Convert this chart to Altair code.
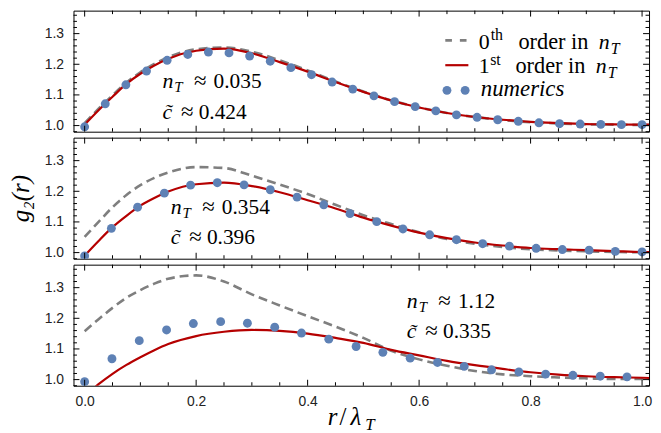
import altair as alt
import pandas as pd

# ---------------- data ----------------
curve_r = [0.0, 0.025, 0.05, 0.075, 0.1, 0.125, 0.15, 0.2, 0.25, 0.3, 0.35, 0.4, 0.45,
           0.5, 0.55, 0.6, 0.65, 0.7, 0.75, 0.8, 0.85, 0.9, 0.95, 1.0, 1.02]

top_zeroth = [1.008, 1.055, 1.099, 1.140, 1.174, 1.201, 1.223, 1.249, 1.255, 1.241, 1.213, 1.180, 1.144,
              1.111, 1.082, 1.059, 1.041, 1.028, 1.018, 1.011, 1.007, 1.004, 1.003, 1.002, 1.002]
top_first = [1.003, 1.050, 1.094, 1.136, 1.169, 1.196, 1.218, 1.244, 1.251, 1.236, 1.207, 1.176, 1.142,
             1.110, 1.082, 1.059, 1.041, 1.028, 1.019, 1.012, 1.008, 1.005, 1.004, 1.003, 1.003]
mid_zeroth = [1.051, 1.100, 1.148, 1.188, 1.220, 1.244, 1.261, 1.279, 1.276, 1.251, 1.222, 1.191, 1.156,
              1.122, 1.093, 1.066, 1.044, 1.029, 1.018, 1.011, 1.007, 1.004, 1.002, 1.001, 1.001]
mid_first = [0.990, 1.038, 1.083, 1.120, 1.153, 1.178, 1.199, 1.223, 1.228, 1.217, 1.197, 1.171, 1.144,
             1.114, 1.088, 1.065, 1.047, 1.033, 1.023, 1.015, 1.011, 1.008, 1.005, 1.002, 1.002]
bot_zeroth = [1.158, 1.197, 1.234, 1.267, 1.292, 1.313, 1.329, 1.340, 1.320, 1.278, 1.242, 1.207, 1.173,
              1.136, 1.094, 1.066, 1.045, 1.028, 1.017, 1.011, 1.007, 1.004, 1.002, 1.002, 1.002]
bot_first = [0.945, 0.985, 1.019, 1.048, 1.073, 1.096, 1.116, 1.142, 1.156, 1.162, 1.159, 1.150, 1.136,
             1.120, 1.097, 1.079, 1.061, 1.047, 1.035, 1.024, 1.016, 1.011, 1.008, 1.006, 1.005]

top_num_r = [0.0, 0.037, 0.074, 0.111, 0.148, 0.185, 0.222, 0.259, 0.296, 0.333, 0.370, 0.407, 0.444, 0.481,
             0.519, 0.556, 0.593, 0.630, 0.667, 0.704, 0.741, 0.778, 0.815, 0.852, 0.889, 0.926, 0.963, 1.0]
top_num_g = [0.996, 1.071, 1.133, 1.178, 1.213, 1.232, 1.240, 1.237, 1.227, 1.210, 1.189, 1.166, 1.142, 1.119,
             1.097, 1.078, 1.062, 1.048, 1.035, 1.027, 1.019, 1.014, 1.009, 1.006, 1.005, 1.004, 1.003, 1.003]
mid_num_r = [0.0, 0.048, 0.095, 0.143, 0.190, 0.238, 0.286, 0.333, 0.381, 0.429, 0.476,
             0.524, 0.571, 0.619, 0.667, 0.714, 0.762, 0.810, 0.857, 0.905, 0.952, 1.0]
mid_num_g = [0.989, 1.079, 1.148, 1.194, 1.220, 1.228, 1.221, 1.205, 1.181, 1.156, 1.127,
             1.101, 1.077, 1.058, 1.042, 1.029, 1.021, 1.014, 1.010, 1.008, 1.004, 1.002]
bot_num_r = [0.0, 0.049, 0.098, 0.147, 0.195, 0.244, 0.292, 0.341, 0.389, 0.438, 0.487,
             0.535, 0.584, 0.633, 0.681, 0.730, 0.779, 0.827, 0.876, 0.925, 0.973]
bot_num_g = [0.993, 1.068, 1.127, 1.162, 1.183, 1.189, 1.184, 1.171, 1.152, 1.132, 1.108,
             1.089, 1.070, 1.056, 1.043, 1.032, 1.025, 1.018, 1.014, 1.011, 1.009]

n_T_values = ["0.035", "0.354", "1.12"]
c_values = ["0.424", "0.396", "0.335"]
legend_labels = ["order in", "order in", "numerics"]

X_MAJOR = [0.0, 0.2, 0.4, 0.6, 0.8, 1.0]
X_MINOR = [0.05, 0.1, 0.15, 0.25, 0.3, 0.35, 0.45, 0.5, 0.55, 0.65, 0.7, 0.75, 0.85, 0.9, 0.95]
Y_MAJOR = [1.0, 1.1, 1.2, 1.3]
Y_MINOR = [0.98, 1.02, 1.04, 1.06, 1.08, 1.12, 1.14, 1.16, 1.18, 1.22, 1.24, 1.26, 1.28, 1.32, 1.34, 1.36]

# ---------------- style ----------------
SERIF = "Liberation Serif"
SANS = "Liberation Sans"
GRAY = "#7f7f7f"
RED = "#b50000"
BLUE = "#5e81b5"
W, H = 580, 122
XD = [-0.02, 1.0125]
YD = [0.98, 1.375]


def y_axis(title):
    return alt.Axis(values=Y_MAJOR, format=".1f", ticks=False, domain=False, grid=False,
                    labelFont=SANS, labelFontSize=14, labelColor="#222222", labelPadding=10,
                    title=title, titleFont=SERIF, titleFontSize=25, titleFontStyle="italic",
                    titleFontWeight="normal", titleColor="black", titlePadding=11)


X_AXIS = alt.Axis(values=X_MAJOR, format=".1f", ticks=False, domain=False, grid=False,
                  labelFont=SANS, labelFontSize=14, labelColor="#222222", labelPadding=9,
                  labelFlush=False, title=None)


def piece(text, x, y, size, italic=False, dx=0, dy=0, align="left"):
    df = pd.DataFrame({"r": [x], "g": [y], "t": [text]})
    return alt.Chart(df).mark_text(
        font=SERIF, fontSize=size, fontStyle="italic" if italic else "normal",
        align=align, baseline="alphabetic", dx=dx, dy=dy, color="black"
    ).encode(text="t:N")


def annotation(n_val, c_val, ax, y1, y2):
    return [
        piece("n", ax, y1, 22, True),
        piece("T", ax, y1, 15, True, dx=12, dy=4),
        piece("\u2248", ax, y1, 23, dx=38, align="center"),
        piece(n_val, ax, y1, 21.5, dx=51.5),
        piece("c\u0303", ax, y2, 22, True),
        piece("\u2248", ax, y2, 23, dx=25, align="center"),
        piece(c_val, ax, y2, 21.5, dx=36.5),
    ]


def frame_ticks():
    layers = []
    for vals, L in ((X_MAJOR, 6), (X_MINOR, 3.5)):
        base = alt.Chart(pd.DataFrame({"r": vals})).mark_rule(color="black", strokeWidth=1)
        layers.append(base.encode(y=alt.value(H), y2=alt.value(H - L)))
        layers.append(base.encode(y=alt.value(0), y2=alt.value(L)))
    for vals, L in ((Y_MAJOR, 6), (Y_MINOR, 3.5)):
        base = alt.Chart(pd.DataFrame({"g": vals})).mark_rule(color="black", strokeWidth=1)
        layers.append(base.encode(x=alt.value(0), x2=alt.value(L)))
        layers.append(base.encode(x=alt.value(W), x2=alt.value(W - L)))
    return layers


def panel(zeroth, first, num_r, num_g, idx, anchor, rows, title, show_x, extra=()):
    gray = alt.Chart(pd.DataFrame({"r": curve_r, "g": zeroth})).mark_line(
        strokeWidth=2.6, strokeDash=[9, 5], clip=True, interpolate="monotone"
    ).encode(color=alt.value(GRAY))
    red = alt.Chart(pd.DataFrame({"r": curve_r, "g": first})).mark_line(
        strokeWidth=2.2, clip=True, interpolate="monotone"
    ).encode(color=alt.value(RED))
    pts = alt.Chart(pd.DataFrame({"r": num_r, "g": num_g})).mark_circle(
        size=80, opacity=1, clip=True
    ).encode(color=alt.value(BLUE))
    layers = [gray, red, pts] + annotation(n_T_values[idx], c_values[idx], anchor, rows[0], rows[1])
    layers += list(extra) + frame_ticks()
    return alt.layer(*layers).encode(
        x=alt.X("r:Q", scale=alt.Scale(domain=XD, nice=False, zero=False),
                axis=X_AXIS if show_x else None),
        y=alt.Y("g:Q", scale=alt.Scale(domain=YD, nice=False, zero=False), axis=y_axis(title)),
    ).properties(width=W, height=H)


# legend (top panel)
def legend_layers():
    lx = 0.707
    out = []
    g_line = alt.Chart(pd.DataFrame({"r": [0.647, 0.6884], "g": [1.278, 1.278]})).mark_line(
        strokeWidth=2.6, strokeDash=[6.7, 8]).encode(color=alt.value(GRAY))
    r_line = alt.Chart(pd.DataFrame({"r": [0.647, 0.6884], "g": [1.197, 1.197]})).mark_line(
        strokeWidth=2.2).encode(color=alt.value(RED))
    dots = alt.Chart(pd.DataFrame({"r": [0.650, 0.6826], "g": [1.115, 1.115]})).mark_circle(
        size=80, opacity=1).encode(color=alt.value(BLUE))
    out += [g_line, r_line, dots]
    y1, y2, y3 = 1.251, 1.170, 1.0967
    out += [
        piece("0", lx, y1, 22),
        piece("th", lx, y1, 16, dx=12, dy=-9),
        piece(legend_labels[0], lx, y1, 22.5, dx=40),
        piece("n", lx, y1, 22, True, dx=121),
        piece("T", lx, y1, 16, True, dx=133, dy=5),
        piece("1", lx, y2, 22),
        piece("st", lx, y2, 16, dx=11.5, dy=-9),
        piece(legend_labels[1], lx, y2, 22.5, dx=37),
        piece("n", lx, y2, 22, True, dx=118),
        piece("T", lx, y2, 16, True, dx=130, dy=5),
        piece(legend_labels[2], lx, y3, 23, True, dx=2),
    ]
    return out


def xtitle_layers():
    out = []
    for text, dx, size, dy, italic in (("r", -36, 25, 0, True), ("/", -24, 25, 0, False),
                                       ("\u03bb", -13, 25, 0, True), ("T", 2, 17, 5, True)):
        df = pd.DataFrame({"r": [0.5], "t": [text]})
        out.append(alt.Chart(df).mark_text(
            font=SERIF, fontSize=size, fontStyle="italic" if italic else "normal",
            align="left", baseline="alphabetic", dx=dx, dy=dy, color="black"
        ).encode(y=alt.value(H + 40), text="t:N"))
    return out


top = panel(top_zeroth, top_first, top_num_r, top_num_g, 0, 0.1396, (1.1226, 1.0223), " ", False,
            legend_layers())
mid = panel(mid_zeroth, mid_first, mid_num_r, mid_num_g, 1, 0.1544, (1.125, 1.028), "g\u2082(r)", False)
bot = panel(bot_zeroth, bot_first, bot_num_r, bot_num_g, 2, 0.578, (1.2323, 1.135), " ", True,
            xtitle_layers())

chart = alt.vconcat(top, mid, bot, spacing=3).properties(padding=0).configure_view(
    stroke="black", strokeWidth=1)

chart.save("out.html", embed_options={"renderer": "svg", "actions": False})
